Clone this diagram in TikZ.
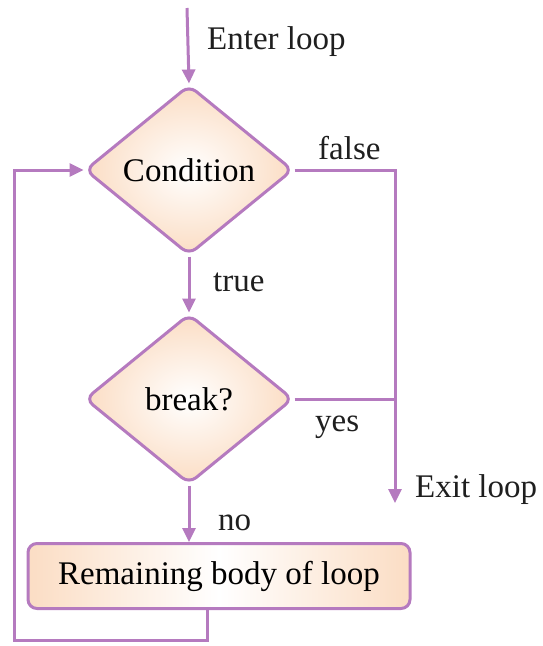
\documentclass[tikz,border=0pt]{standalone}
\usepackage{fontspec}
\setmainfont{Liberation Serif}
\definecolor{loopline}{RGB}{181, 122, 191}
\definecolor{loopfill}{RGB}{251, 221, 196}
\usetikzlibrary{shapes.geometric, arrows.meta, positioning}

\begin{document}
\begin{tikzpicture}[
  x=1pt, y=1pt,
  decision/.style={diamond, draw=loopline, line width=3pt, rounded corners=9pt, inner sep=0pt,
    minimum width=208pt, minimum height=170pt, shading=radial, inner color=white, outer color=loopfill,
    font=\fontsize{33}{37}\selectfont},
  bodybox/.style={draw=loopline, line width=3pt, rounded corners=9pt, minimum width=382pt, minimum height=65pt,
    left color=loopfill, right color=loopfill, middle color=white, font=\fontsize{33}{37}\selectfont},
  flow/.style={draw=loopline, line width=3pt},
  arrowflow/.style={flow, -{Triangle[length=14pt, width=13pt]}},
  tag/.style={font=\fontsize{33}{37}\selectfont, text=black!88, inner sep=0pt, anchor=west}
]
  \useasboundingbox (0,0) rectangle (543,-646);

  \coordinate (enter) at (187,-8);
  \node[decision] (cond) at (189,-170) {Condition};
  \node[decision] (brk) at (189,-399) {break?};
  \node[bodybox] (body) at (219,-576) {Remaining body of loop};
  \coordinate (split) at (395,-170);
  \coordinate (exit) at (395,-503);
  \coordinate (back1) at (207,-640);
  \coordinate (back2) at (14,-640);
  \coordinate (back3) at (14,-170);

  \draw[arrowflow] (enter) -- (cond.north);
  \draw[arrowflow] (cond.south) -- (brk.north);
  \draw[arrowflow] (brk.south) -- (body.north -| brk.south);
  \draw[arrowflow] (cond.east) -- (split) -- (exit);
  \draw[flow] (brk.east) -- (brk.east -| split);
  \draw[arrowflow] (body.south -| back1) -- (back1) -- (back2) -- (back3) -- (cond.west);

  % labels
  \node[tag] (lenter) at (207,-42) {Enter loop};
  \node[tag] (lfalse) at (318,-148) {false};
  \node[tag] (ltrue) at (213,-282) {true};
  \node[tag] (lyes) at (315,-427) {yes};
  \node[tag] (lno) at (218,-523) {no};
  \node[tag] (lexit) at (415,-490) {Exit loop};
\end{tikzpicture}
\end{document}
